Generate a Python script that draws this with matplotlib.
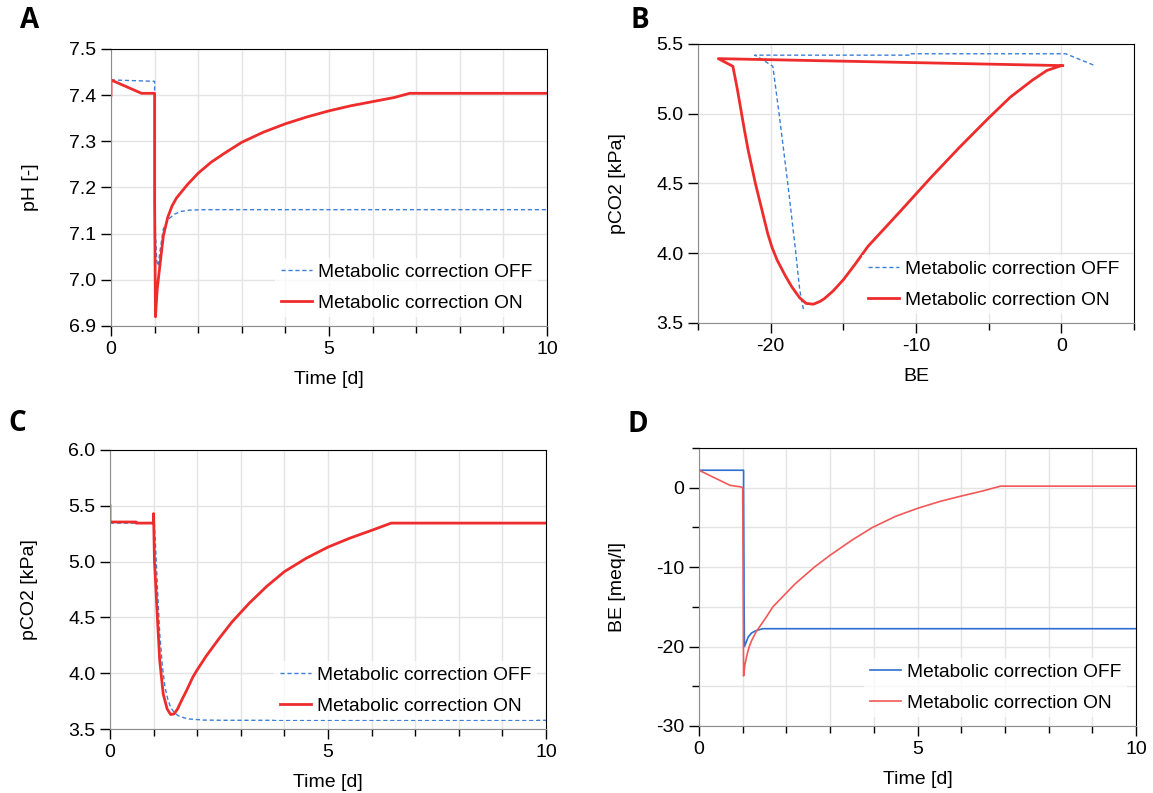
import matplotlib
matplotlib.use("Agg")
import matplotlib.pyplot as plt
from matplotlib.ticker import MultipleLocator, FixedLocator, FormatStrFormatter

plt.rcParams['font.family'] = ['Liberation Sans', 'DejaVu Sans']
plt.rcParams['axes.unicode_minus'] = False

# --- A: pH over time ---
t_ph_off = [0, 1.0, 1.0, 1.02, 1.05, 1.08, 1.12, 1.2, 1.3, 1.45, 1.6, 1.8, 2.2, 10]
ph_off = [7.433, 7.430, 7.20, 7.10, 7.04, 7.03, 7.06, 7.11, 7.13, 7.142, 7.148, 7.151, 7.152, 7.152]
t_ph_on = [0, 0, 0.7, 1.0, 1.0, 1.02, 1.06, 1.12, 1.2, 1.3, 1.4, 1.5, 1.75, 2.0, 2.3,
           2.6, 3.0, 3.5, 4.0, 4.5, 5.0, 5.5, 6.0, 6.5, 6.85, 10]
ph_on = [7.40, 7.433, 7.404, 7.404, 7.17, 6.92, 6.98, 7.03, 7.095, 7.135, 7.16, 7.177, 7.206,
         7.231, 7.255, 7.274, 7.298, 7.32, 7.338, 7.353, 7.366, 7.377, 7.386, 7.395, 7.404, 7.404]

# --- B: pCO2 vs BE ---
be_loop_off = [2.2, 0.3, -10.4, -10.4, -21.1, -20.6, -19.85, -19.42, -18.8, -18.3, -18.0, -17.75]
pco2_loop_off = [5.35, 5.43, 5.43, 5.42, 5.42, 5.39, 5.34, 5.0, 4.48, 4.03, 3.735, 3.60]
be_loop_on = [0.1, -23.6, -22.6, -22.3, -22.05, -21.8, -21.55, -21.3, -21.05, -20.6, -20.2,
              -19.9, -19.55, -19.0, -18.55, -18.0, -17.55, -17.05, -16.6, -16.3, -15.7, -15.0,
              -14.2, -13.3, -11.0, -9.0, -7.0, -5.0, -3.5, -2.0, -1.0, 0.0]
pco2_loop_on = [5.345, 5.395, 5.34, 5.18, 5.03, 4.88, 4.74, 4.62, 4.50, 4.31, 4.14,
                4.04, 3.95, 3.84, 3.76, 3.68, 3.64, 3.635, 3.655, 3.675, 3.73, 3.81,
                3.92, 4.05, 4.31, 4.54, 4.76, 4.97, 5.12, 5.24, 5.31, 5.345]

# --- C: pCO2 over time ---
t_pco2_off = [0, 1.0, 1.01, 1.05, 1.09, 1.14, 1.2, 1.26, 1.33, 1.39, 1.47, 1.56, 1.7, 1.81, 2.15, 2.6, 10]
pco2_off = [5.345, 5.345, 5.40, 5.1, 4.75, 4.355, 4.07, 3.875, 3.76, 3.695, 3.65, 3.62, 3.60,
            3.59, 3.58, 3.578, 3.578]
t_pco2_on = [0, 0, 0.6, 0.6, 1.0, 1.0, 1.01, 1.02, 1.05, 1.09, 1.14, 1.22, 1.31, 1.39, 1.47,
             1.55, 1.64, 1.75, 1.9, 2.0, 2.2, 2.5, 2.8, 3.2, 3.6, 4.0, 4.5, 5.0, 5.5, 6.0, 6.45, 10]
pco2_on = [5.50, 5.355, 5.355, 5.345, 5.345, 5.43, 5.20, 5.0, 4.78, 4.475, 4.115, 3.815, 3.68,
           3.63, 3.635, 3.68, 3.755, 3.84, 3.965, 4.03, 4.15, 4.31, 4.46, 4.63, 4.78, 4.91,
           5.03, 5.13, 5.21, 5.28, 5.345, 5.345]

# --- D: BE over time ---
t_be_off = [0, 1.02, 1.02, 1.03, 1.03, 1.04, 1.13, 1.2, 1.3, 1.46, 10]
be_off = [2.2, 2.2, 0.0, -11.1, -13.5, -20.0, -18.75, -18.3, -18.0, -17.75, -17.75]
t_be_on = [0, 0, 0.71, 0.96, 1.0, 1.02, 1.05, 1.1, 1.15, 1.2, 1.3, 1.4, 1.55, 1.69, 1.9, 2.2,
           2.64, 3.0, 3.5, 3.97, 4.5, 5.0, 5.5, 6.0, 6.5, 6.9, 10]
be_on = [0, 2.2, 0.3, 0.1, 0.0, -23.7, -22.3, -21.0, -20.0, -19.3, -18.2, -17.4, -16.2, -15.0,
         -13.8, -12.1, -10.0, -8.5, -6.6, -5.0, -3.6, -2.6, -1.75, -1.05, -0.4, 0.2, 0.2]

lbl_off = "Metabolic correction OFF"
lbl_on = "Metabolic correction ON"

RED = '#ee2c2c'
BLUE = '#3b7fd6'
FS = 14

W, H = 1153, 793
fig = plt.figure(figsize=(W / 100, H / 100), dpi=100)


def px_axes(l, t, r, b):
    return fig.add_axes([l / W, 1 - b / H, (r - l) / W, (b - t) / H])


def style(ax):
    for s in ['left', 'bottom']:
        ax.spines[s].set_color('#8c8c8c')
    for s in ['top', 'right']:
        ax.spines[s].set_color('black')
    ax.tick_params(which='major', length=7, width=1, color='black', labelsize=FS, pad=3.5)
    ax.tick_params(which='minor', length=5, width=1, color='black')
    ax.grid(which='both', color='#e4e4e4', lw=1)
    ax.set_axisbelow(True)


def legend(ax):
    ax.legend(loc='lower right', fontsize=13.8, frameon=True, fancybox=False, framealpha=0.75,
              edgecolor='none', handlelength=1.6, handletextpad=0.35, labelspacing=0.7,
              borderpad=0.3, borderaxespad=0.45)


def time_axis(ax):
    ax.set_xlim(0, 10)
    ax.xaxis.set_major_locator(FixedLocator([0, 5, 10]))
    ax.xaxis.set_minor_locator(MultipleLocator(1))
    ax.set_xlabel("Time [d]", fontsize=FS, labelpad=10)


axA = px_axes(111, 49, 547, 326)
axB = px_axes(698, 44, 1134, 323)
axC = px_axes(110, 450, 546, 729)
axD = px_axes(699, 448, 1136, 726)

# A
axA.plot(t_ph_off, ph_off, color=BLUE, lw=1, ls=(0, (3, 2)), label=lbl_off)
axA.plot(t_ph_on, ph_on, color=RED, lw=2, label=lbl_on)
time_axis(axA)
axA.set_ylim(6.9, 7.5)
axA.yaxis.set_major_locator(MultipleLocator(0.1))
axA.yaxis.set_major_formatter(FormatStrFormatter('%.1f'))
axA.set_ylabel("pH [-]", fontsize=FS, labelpad=22)
style(axA)
legend(axA)

# B
axB.plot(be_loop_off, pco2_loop_off, color=BLUE, lw=1, ls=(0, (3, 2)), label=lbl_off)
axB.plot(be_loop_on, pco2_loop_on, color=RED, lw=2, label=lbl_on)
axB.set_xlim(-25, 5)
axB.xaxis.set_major_locator(FixedLocator([-20, -10, 0]))
axB.xaxis.set_minor_locator(FixedLocator([-25, -15, -5, 5]))
axB.set_ylim(3.5, 5.5)
axB.yaxis.set_major_locator(MultipleLocator(0.5))
axB.yaxis.set_major_formatter(FormatStrFormatter('%.1f'))
axB.set_xlabel("BE", fontsize=FS, labelpad=10)
axB.set_ylabel("pCO2 [kPa]", fontsize=FS, labelpad=22)
style(axB)
legend(axB)

# C
axC.plot(t_pco2_off, pco2_off, color=BLUE, lw=1, ls=(0, (3, 2)), label=lbl_off)
axC.plot(t_pco2_on, pco2_on, color=RED, lw=2, label=lbl_on)
time_axis(axC)
axC.set_ylim(3.5, 6.0)
axC.yaxis.set_major_locator(MultipleLocator(0.5))
axC.yaxis.set_major_formatter(FormatStrFormatter('%.1f'))
axC.set_ylabel("pCO2 [kPa]", fontsize=FS, labelpad=22)
style(axC)
legend(axC)

# D
axD.plot(t_be_off, be_off, color='#2e6fd0', lw=1.2, label=lbl_off)
axD.plot(t_be_on, be_on, color='#f25858', lw=1.2, label=lbl_on)
time_axis(axD)
axD.set_ylim(-30, 5)
axD.yaxis.set_major_locator(FixedLocator([-30, -20, -10, 0]))
axD.yaxis.set_minor_locator(FixedLocator([-25, -15, -5, 5]))
axD.set_ylabel("BE [meq/l]", fontsize=FS, labelpad=22)
style(axD)
legend(axD)

for txt, x, y in [("A", 30, 21), ("B", 640, 21), ("C", 17, 423), ("D", 638, 424)]:
    fig.text(x / W, 1 - y / H, txt, fontsize=20, fontweight='bold', family=['Open Sans', 'DejaVu Sans'],
             ha='center', va='center')

fig.savefig("out.png", dpi=100)
